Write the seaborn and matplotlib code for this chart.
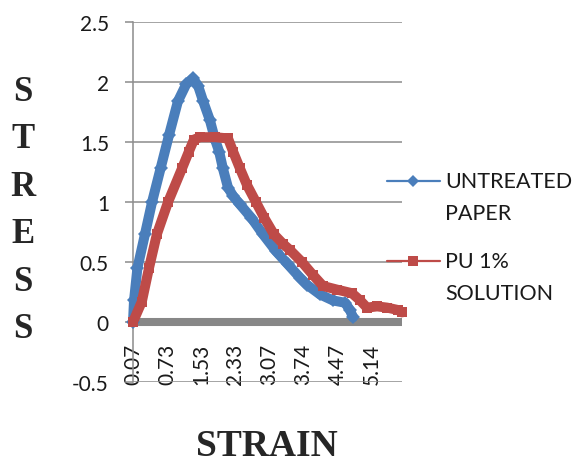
import matplotlib
matplotlib.use("Agg")
import matplotlib.pyplot as plt
import seaborn as sns
import pandas as pd
from matplotlib.lines import Line2D
from matplotlib.legend_handler import HandlerLine2D

# ---- data (x = position along the category axis, 10 categories per tick label) ----
untreated_pos = [0, 0.3, 1.3, 3.5, 5.6, 8.1, 10.6, 13.2, 15.6, 17.6, 19.1, 20.6, 22.6,
                 24.1, 25.3, 26.4, 27.9, 29.4, 31.4, 34.7, 38.2, 42.0, 45.5, 49.0, 51.1,
                 54.9, 58.7, 62.3, 63.7, 64.6]
untreated_stress = [0, 0.18, 0.45, 0.73, 1.0, 1.28, 1.56, 1.84, 1.98, 2.03, 1.97, 1.84, 1.68,
                    1.52, 1.42, 1.28, 1.12, 1.05, 0.98, 0.87, 0.73, 0.59, 0.48, 0.37, 0.31,
                    0.23, 0.18, 0.16, 0.10, 0.04]

pu_pos = [0, 2.6, 4.7, 7.0, 10.3, 14.4, 16.4, 17.9, 19.7, 24.1, 27.9, 29.4, 31.4, 33.5,
          36.1, 38.5, 41.4, 44.1, 46.1, 49.6, 52.9, 55.8, 59.9, 64.3, 66.7, 68.7, 71.7,
          74.6, 77.8, 79.0]
pu_stress = [0, 0.17, 0.45, 0.73, 1.0, 1.28, 1.42, 1.52, 1.54, 1.54, 1.53, 1.42, 1.28, 1.14,
             1.0, 0.87, 0.73, 0.65, 0.60, 0.50, 0.39, 0.30, 0.27, 0.24, 0.18, 0.12, 0.13,
             0.12, 0.10, 0.08]

series_names = ["UNTREATED\nPAPER", "PU 1%\nSOLUTION"]
strain_tick_pos = [0, 10, 20, 30, 40, 50, 60, 70]
strain_tick_labels = ["0.07", "0.73", "1.53", "2.33", "3.07", "3.74", "4.47", "5.14"]
stress_ticks = [-0.5, 0, 0.5, 1, 1.5, 2, 2.5]
stress_tick_labels = ["-0.5", "0", "0.5", "1", "1.5", "2", "2.5"]

BLUE = "#4A7EBB"
RED = "#BE4B48"
GRID = "#8C8C8C"


class FirstLineHandler(HandlerLine2D):
    """Legend handle aligned with the first line of a two-line label."""

    def __init__(self, shift, **kw):
        super().__init__(**kw)
        self.shift = shift

    def create_artists(self, legend, orig_handle, xdescent, ydescent, width, height,
                       fontsize, trans):
        artists = super().create_artists(legend, orig_handle, xdescent, ydescent, width,
                                         height, fontsize, trans)
        for a in artists:
            a.set_ydata([y + self.shift for y in a.get_ydata()])
        return artists


sns.set_theme(style="white")
plt.rcParams["font.family"] = ["Lato", "DejaVu Sans"]

fig = plt.figure(figsize=(5.78, 4.6), dpi=100)
ax = fig.add_axes([133 / 578, 1 - 383 / 460, (402 - 133) / 578, (383 - 23) / 460])

df_u = pd.DataFrame({"pos": untreated_pos, "stress": untreated_stress})
df_p = pd.DataFrame({"pos": pu_pos, "stress": pu_stress})

sns.lineplot(data=df_u, x="pos", y="stress", ax=ax, color=BLUE, linewidth=7.2,
             marker="D", markersize=7.5, markeredgewidth=0, zorder=3, clip_on=False)
sns.lineplot(data=df_p, x="pos", y="stress", ax=ax, color=RED, linewidth=7.2,
             marker="s", markersize=7.2, markeredgewidth=0, zorder=4, clip_on=False)

ax.set_xlim(0, 79)
ax.set_ylim(-0.5, 2.5)
ax.set_xlabel("")
ax.set_ylabel("")

ax.set_yticks(stress_ticks, stress_tick_labels)
ax.set_xticks(strain_tick_pos, strain_tick_labels)

ax.yaxis.grid(True, color=GRID, linewidth=1.1)
ax.xaxis.grid(False)
ax.set_axisbelow(True)

for s in ("top", "right"):
    ax.spines[s].set_visible(False)
ax.spines["left"].set_color(GRID)
ax.spines["left"].set_linewidth(1.1)
ax.spines["bottom"].set_position(("data", 0))
ax.spines["bottom"].set_color("#878787")
ax.spines["bottom"].set_linewidth(5.8)
ax.spines["bottom"].set_capstyle("butt")

ax.tick_params(axis="y", left=True, length=5.8, width=1.1, color=GRID, pad=11.5,
               labelsize=15, labelcolor="#1a1a1a")
ax.tick_params(axis="x", bottom=True, length=0, pad=15, labelsize=15, labelcolor="#1a1a1a",
               labelrotation=90)

handles = [
    Line2D([], [], color=BLUE, lw=1.6, marker="D", markersize=6.5, markeredgewidth=0),
    Line2D([], [], color=RED, lw=1.6, marker="s", markersize=6.5, markeredgewidth=0),
]
shift_pt = 11.5
leg = fig.legend(handles, series_names, loc="upper left",
                 bbox_to_anchor=(387 / 578, 1 - 172 / 460),
                 frameon=False, fontsize=15.5, handlelength=2.45, handletextpad=0.25,
                 labelspacing=1.3, borderpad=0, borderaxespad=0,
                 handler_map={Line2D: FirstLineHandler(shift_pt)})
for t in leg.get_texts():
    t.set_color("#1a1a1a")
    t.set_linespacing(1.75)

fig.text(23 / 578, 1 - 211 / 460, "S\nT\nR\nE\nS\nS", family="Liberation Serif",
         weight="bold", fontsize=25, ha="center", va="center", linespacing=1.58)
fig.text(267 / 578, 1 - 456 / 460, "STRAIN", family="Liberation Serif",
         weight="bold", fontsize=27, ha="center", va="baseline")

fig.savefig("out.png", dpi=100)
